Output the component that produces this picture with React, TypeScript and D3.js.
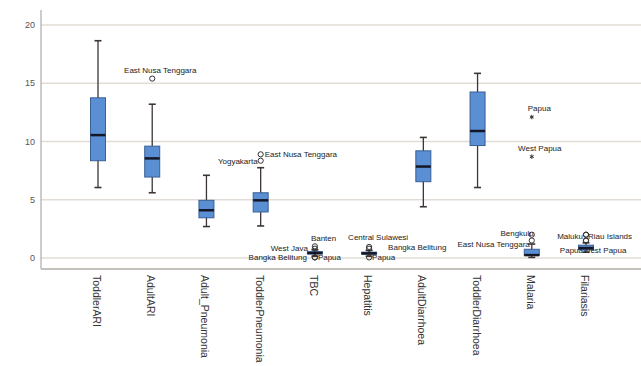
import React, { useRef, useEffect } from 'react';
import * as d3 from 'd3';

const CATEGORIES = [
  'ToddlerARI', 'AdultARI', 'Adult_Pneumonia', 'ToddlerPneumonia', 'TBC',
  'Hepatitis', 'AdultDiarrhoea', 'ToddlerDiarrhoea', 'Malaria', 'Filariasis',
];
const WHISKER_LOW = [6.05, 5.6, 2.7, 2.75, 0.15, 0.15, 4.4, 6.05, 0.05, 0.5];
const Q1 = [8.35, 6.95, 3.45, 3.95, 0.35, 0.32, 6.55, 9.65, 0.22, 0.7];
const MEDIAN = [10.55, 8.55, 4.1, 4.95, 0.42, 0.4, 7.85, 10.9, 0.25, 0.85];
const Q3 = [13.75, 9.6, 4.95, 5.6, 0.55, 0.5, 9.2, 14.25, 0.75, 1.1];
const WHISKER_HIGH = [18.65, 13.2, 7.1, 7.75, 0.7, 0.65, 10.35, 15.85, 1.2, 1.3];

const Y_TICKS = [0, 5, 10, 15, 20];

// outliers: o = circle, e = extreme (asterisk)
const OUTLIERS: { cat: string; value: number; name: string; kind: 'o' | 'e' }[] = [
  { cat: 'AdultARI', value: 15.4, name: 'East Nusa Tenggara', kind: 'o' },
  { cat: 'ToddlerPneumonia', value: 8.9, name: 'East Nusa Tenggara', kind: 'o' },
  { cat: 'ToddlerPneumonia', value: 8.35, name: 'Yogyakarta', kind: 'o' },
  { cat: 'TBC', value: 1.0, name: 'Banten', kind: 'o' },
  { cat: 'TBC', value: 0.8, name: 'West Java', kind: 'o' },
  { cat: 'TBC', value: 0.05, name: 'Bangka Belitung', kind: 'o' },
  { cat: 'TBC', value: 0.05, name: 'Papua', kind: 'o' },
  { cat: 'Hepatitis', value: 0.95, name: 'Central Sulawesi', kind: 'o' },
  { cat: 'Hepatitis', value: 0.8, name: 'Bangka Belitung', kind: 'o' },
  { cat: 'Hepatitis', value: 0.05, name: 'Papua', kind: 'o' },
  { cat: 'Malaria', value: 12.1, name: 'Papua', kind: 'e' },
  { cat: 'Malaria', value: 8.7, name: 'West Papua', kind: 'e' },
  { cat: 'Malaria', value: 2.0, name: 'Bengkulu', kind: 'o' },
  { cat: 'Malaria', value: 1.5, name: 'East Nusa Tenggara', kind: 'o' },
  { cat: 'Filariasis', value: 2.0, name: 'Maluku', kind: 'o' },
  { cat: 'Filariasis', value: 2.0, name: 'Riau Islands', kind: 'o' },
  { cat: 'Filariasis', value: 1.5, name: 'Papua', kind: 'o' },
  { cat: 'Filariasis', value: 1.5, name: 'West Papua', kind: 'o' },
];

// label placement for each outlier above (dx, dy, anchor)
const LABEL_PLACE: [number, number, string][] = [
  [8, -6, 'middle'],
  [4, 3, 'start'],
  [-3, 3, 'end'],
  [-4, -5, 'start'],
  [-7, 2, 'end'],
  [-8, 3, 'end'],
  [3, 3, 'start'],
  [-21, -7, 'start'],
  [19, 1, 'start'],
  [3, 3, 'start'],
  [-4, -6, 'start'],
  [8, -6, 'middle'],
  [2, 1, 'end'],
  [-2, 6, 'end'],
  [-3, 4, 'end'],
  [2, 4, 'start'],
  [-3, 12, 'end'],
  [-3, 12, 'start'],
];

const W = 641;
const H = 366;

export default function App() {
  const svgRef = useRef<SVGSVGElement>(null);

  useEffect(() => {
    const svg = d3.select(svgRef.current);
    svg.selectAll('*').remove();

    const x = d3.scalePoint<string>().domain(CATEGORIES).range([98, 586]);
    const y = d3.scaleLinear().domain([0, 20]).range([258, 25]);
    const font = 'Arial, "Liberation Sans", sans-serif';

    svg.append('rect').attr('width', W).attr('height', H).attr('fill', '#fff');

    // gridlines
    svg.append('g').selectAll('line').data(Y_TICKS).enter().append('line')
      .attr('x1', 41).attr('x2', W)
      .attr('y1', d => y(d)).attr('y2', d => y(d))
      .attr('stroke', '#e2dcd6').attr('stroke-width', 1.5);

    // axes
    svg.append('line').attr('x1', 41).attr('x2', 41).attr('y1', 10).attr('y2', 269)
      .attr('stroke', '#9a9a9a').attr('stroke-width', 1);
    svg.append('line').attr('x1', 41).attr('x2', W).attr('y1', 269).attr('y2', 269)
      .attr('stroke', '#c4c0bc').attr('stroke-width', 2);

    svg.append('g').selectAll('text').data(Y_TICKS).enter().append('text')
      .attr('x', 35).attr('y', d => y(d)).attr('dy', '0.35em')
      .attr('text-anchor', 'end').attr('font-family', font).attr('font-size', 9)
      .attr('fill', '#555').text(d => d);

    // boxes
    const boxW = 15;
    const capW = 7;
    const g = svg.append('g');
    CATEGORIES.forEach((c, i) => {
      const cx = x(c)!;
      const stroke = '#3d3535';
      g.append('line').attr('x1', cx).attr('x2', cx)
        .attr('y1', y(WHISKER_LOW[i])).attr('y2', y(WHISKER_HIGH[i]))
        .attr('stroke', stroke).attr('stroke-width', 1.3);
      [WHISKER_LOW[i], WHISKER_HIGH[i]].forEach(v => {
        g.append('line').attr('x1', cx - capW / 2).attr('x2', cx + capW / 2)
          .attr('y1', y(v)).attr('y2', y(v))
          .attr('stroke', stroke).attr('stroke-width', 1.6);
      });
      g.append('rect')
        .attr('x', cx - boxW / 2).attr('width', boxW)
        .attr('y', y(Q3[i])).attr('height', Math.max(1, y(Q1[i]) - y(Q3[i])))
        .attr('fill', '#5b8fd4').attr('stroke', '#3a5f94').attr('stroke-width', 1);
      g.append('line').attr('x1', cx - boxW / 2).attr('x2', cx + boxW / 2)
        .attr('y1', y(MEDIAN[i])).attr('y2', y(MEDIAN[i]))
        .attr('stroke', '#141826').attr('stroke-width', 2.5);
    });

    // outliers
    const og = svg.append('g');
    const star = d3.symbol(d3.symbolAsterisk, 14);
    OUTLIERS.forEach((o, i) => {
      const cx = x(o.cat)!;
      const cy = y(o.value);
      if (o.kind === 'o') {
        og.append('circle').attr('cx', cx).attr('cy', cy).attr('r', 2.6)
          .attr('fill', 'none').attr('stroke', '#333').attr('stroke-width', 1);
      } else {
        og.append('path').attr('d', star()!).attr('transform', `translate(${cx},${cy})`)
          .attr('fill', 'none').attr('stroke', '#333').attr('stroke-width', 1);
      }
      const [dx, dy, anchor] = LABEL_PLACE[i];
      og.append('text').attr('x', cx + dx).attr('y', cy + dy)
        .attr('text-anchor', anchor).attr('font-family', font).attr('font-size', 8)
        .attr('fill', '#222').text(o.name);
    });

    // category labels
    svg.append('g').selectAll('text').data(CATEGORIES).enter().append('text')
      .attr('transform', d => `translate(${x(d)! - 5},275) rotate(90)`)
      .attr('font-family', font).attr('font-size', 10.5).attr('fill', '#333')
      .text(d => d);
  }, []);

  return (
    <svg ref={svgRef} width={W} height={H}
      style={{ position: 'absolute', left: 0, top: 0, display: 'block' }} />
  );
}
